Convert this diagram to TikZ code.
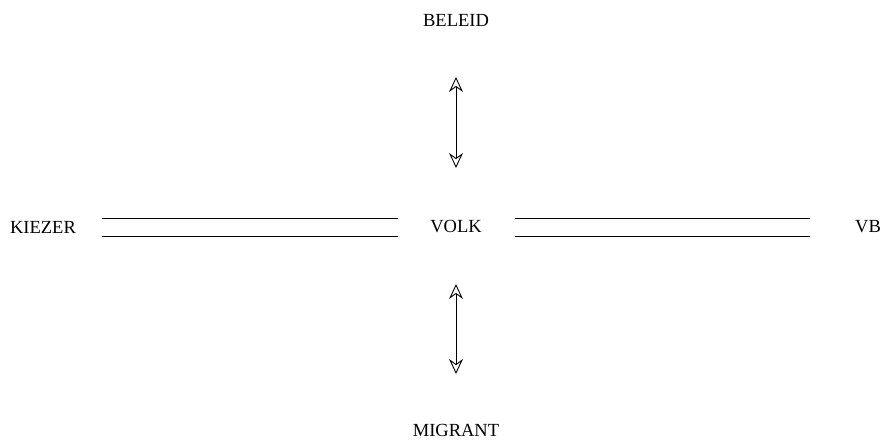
\documentclass[tikz,border=0pt]{standalone}
\usepackage{fontspec}
\setmainfont{Liberation Serif}
\usetikzlibrary{arrows.meta}

\tikzset{
  lbl/.style={font=\fontsize{18.5}{20}\selectfont, inner sep=0pt},
  lijn/.style={line width=0.9pt},
  pijl/.style={line width=0.9pt, {Stealth[open,length=15pt,width=14pt,inset=5pt]}-{Stealth[open,length=15pt,width=14pt,inset=5pt]}}
}

\begin{document}
\begin{tikzpicture}[x=1pt,y=-1pt]

\useasboundingbox (0,0) rectangle (884,440);

%% labels
\node[lbl] (beleid) at (456,20) {BELEID};
\node[lbl] (volk) at (456,227) {VOLK};
\node[lbl] (kiezer) at (43,227) {KIEZER};
\node[lbl] (vb) at (868,227) {VB};
\node[lbl] (migrant) at (456,430) {MIGRANT};

%%% links
\draw[lijn, shorten <=59pt, shorten >=58pt] ([yshift=9pt]kiezer.center) -- ([yshift=9pt]volk.center);
\draw[lijn, shorten <=59pt, shorten >=58pt] ([yshift=-9pt]kiezer.center) -- ([yshift=-9pt]volk.center);
\draw[lijn, shorten <=59pt, shorten >=58pt] ([yshift=9pt]volk.center) -- ([yshift=9pt]vb.center);
\draw[lijn, shorten <=59pt, shorten >=58pt] ([yshift=-9pt]volk.center) -- ([yshift=-9pt]vb.center);
\draw[pijl, shorten <=57pt, shorten >=59pt] (beleid.center) -- (volk.center);
\draw[pijl, shorten <=57pt, shorten >=56pt] (volk.center) -- (migrant.center);

\end{tikzpicture}
\end{document}
